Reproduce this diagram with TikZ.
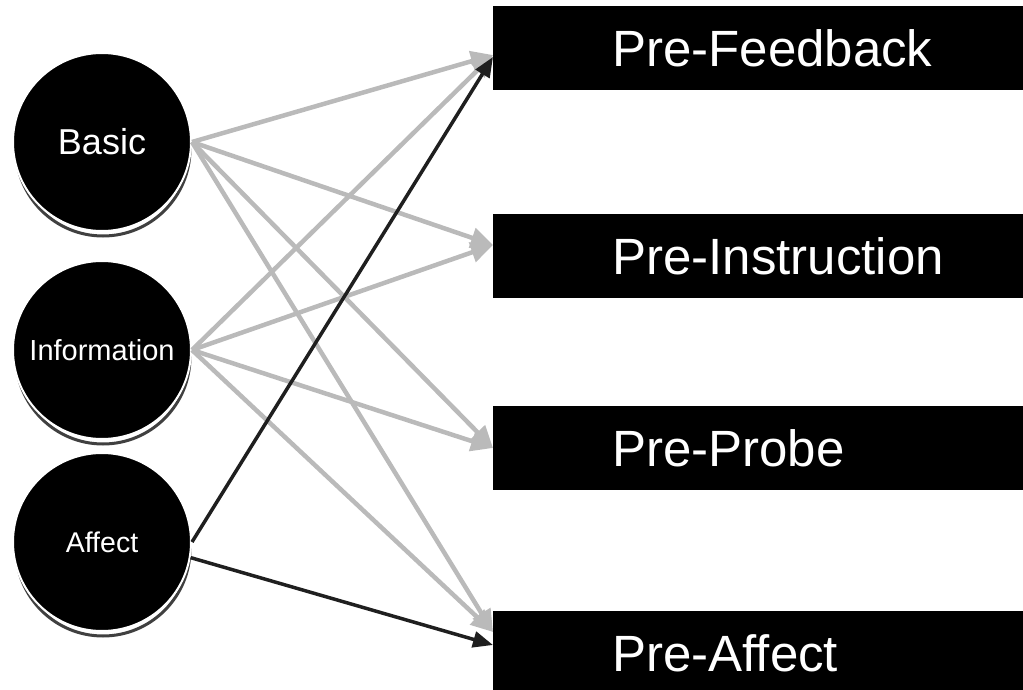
\documentclass[tikz,border=0pt]{standalone}
\usepackage{fontspec}
\setmainfont{Liberation Sans}
\usetikzlibrary{arrows.meta, positioning}

\begin{document}
\begin{tikzpicture}[x=1pt, y=-1pt,
    bubble/.style={circle, fill=black, draw=white, line width=2pt, text=white,
        minimum size=178pt, inner sep=0pt},
    stage/.style={rectangle, fill=black, text=white, anchor=west, minimum height=84pt,
        text width=440pt, inner xsep=119pt, inner ysep=0pt, align=left,
        font=\fontsize{51}{51}\selectfont},
    link/.style={black!27, line width=4.5pt, -{Triangle[length=22pt, width=20pt]}},
    boldlink/.style={black!88, line width=3.5pt, -{Triangle[length=20pt, width=16pt]}}]
      \useasboundingbox (0,0) rectangle (1023,690);

      % Shadows behind the circles
      \foreach \y in {142, 350, 542} {
          \draw[black!75, line width=3pt, fill=white] (103,\y+7) circle[radius=87pt];
      }

      % Left circles
      \node[bubble, font=\fontsize{36}{36}\selectfont] (basic) at (102,142) {Basic};
      \node[bubble, font=\fontsize{29}{29}\selectfont] (info) at (102,350) {Information};
      \node[bubble, font=\fontsize{28.5}{28.5}\selectfont] (affect) at (102,542) {Affect};

      % Right boxes
      \node[stage] (feedback) at (493,48) {Pre-Feedback};
      \node[stage] (instruction) at (493,256) {Pre-Instruction};
      \node[stage] (probe) at (493,448) {Pre-Probe};
      \node[stage] (preaffect) at (493,653) {Pre-Affect};

      % Grey paths
      \foreach \from in {basic, info} {
          \draw[link] (\from.east) -- ([yshift=-7pt]feedback.west);
          \draw[link] (\from.east) -- ([yshift=11pt]instruction.west);
          \draw[link] (\from.east) -- (probe.west);
          \draw[link] (\from.east) -- ([yshift=21pt]preaffect.west);
      }

      % Black paths
      \draw[boldlink] (affect.east) -- ([yshift=-9pt]feedback.west);
      \draw[boldlink] (affect.-10) -- ([yshift=8pt]preaffect.west);
\end{tikzpicture}
\end{document}
